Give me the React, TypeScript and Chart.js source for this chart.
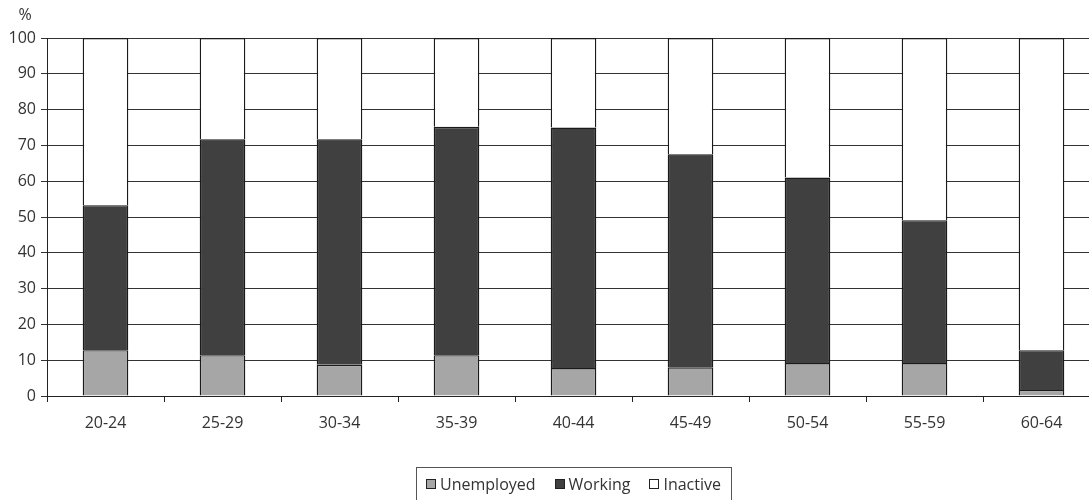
import React, { useEffect, useRef } from "react";
import { Chart, registerables } from "chart.js";

Chart.register(...registerables);

const categories = ["20-24", "25-29", "30-34", "35-39", "40-44", "45-49", "50-54", "55-59", "60-64"];
const unemployed = [12.8, 11.4, 8.7, 11.4, 7.8, 8.0, 9.2, 9.2, 1.7];
const working = [40.5, 60.3, 63.0, 63.8, 67.2, 59.5, 51.8, 39.9, 11.1];
const inactive = [46.7, 28.3, 28.3, 24.8, 25.0, 32.5, 39.0, 50.9, 87.2];
const yTicks = { min: 0, max: 100, step: 10 };

const FONT = "'Open Sans', 'Noto Sans', sans-serif";
const TEXT = "#333333";

const extras = {
  id: "extras",
  afterDraw(chart: any) {
    const ctx = chart.ctx;
    const area = chart.chartArea;
    ctx.save();
    ctx.fillStyle = TEXT;
    ctx.font = `16px ${FONT}`;
    ctx.textAlign = "center";
    ctx.textBaseline = "middle";
    ctx.fillText("%", 25, 15);
    const cx = (area.left + area.right) / 2;
    const items = chart.data.datasets.map((d: any) => ({
      label: d.label,
      fill: d.backgroundColor,
    }));
    ctx.font = `16px ${FONT}`;
    const sw = 10;
    const gapSwText = 4;
    const gapItems = 19;
    let total = 0;
    items.forEach((it: any, i: number) => {
      total += sw + gapSwText + ctx.measureText(it.label).width;
      if (i < items.length - 1) total += gapItems;
    });
    const padX = 10;
    const boxLeft = Math.round(cx - total / 2 - padX) + 0.5;
    const boxW = Math.round(total + padX * 2);
    const boxTop = 467.5;
    ctx.strokeStyle = "#555";
    ctx.lineWidth = 1;
    ctx.strokeRect(boxLeft, boxTop, boxW, 60);
    let x = cx - total / 2;
    const ty = 485;
    items.forEach((it: any) => {
      const sx = Math.round(x);
      ctx.fillStyle = it.fill;
      ctx.fillRect(sx, 479, sw, sw);
      ctx.strokeStyle = "#222";
      ctx.strokeRect(sx + 0.5, 479.5, sw - 1, sw - 1);
      x += sw + gapSwText;
      ctx.fillStyle = TEXT;
      ctx.textAlign = "left";
      ctx.textBaseline = "middle";
      ctx.fillText(it.label, x, ty);
      x += ctx.measureText(it.label).width + gapItems;
    });
    ctx.restore();
  },
};

export default function App() {
  const ref = useRef<HTMLCanvasElement | null>(null);
  useEffect(() => {
    if (!ref.current) return;
    const chart = new Chart(ref.current, {
      type: "bar",
      data: {
        labels: categories,
        datasets: [
          { label: "Unemployed", data: unemployed, backgroundColor: "#a6a6a6", borderColor: "#1a1a1a", borderWidth: 1.4 },
          { label: "Working", data: working, backgroundColor: "#404040", borderColor: "#1a1a1a", borderWidth: 1.4 },
          { label: "Inactive", data: inactive, backgroundColor: "#ffffff", borderColor: "#1a1a1a", borderWidth: 1.4 },
        ],
      },
      options: {
        animation: false,
        responsive: false,
        devicePixelRatio: 1,
        layout: { padding: { top: 38, left: 0, right: 10, bottom: 0 } },
        datasets: { bar: { barPercentage: 0.39, categoryPercentage: 1.0 } },
        plugins: { legend: { display: false }, tooltip: { enabled: false } },
        scales: {
          x: {
            stacked: true,
            grid: { drawOnChartArea: false, drawTicks: true, tickLength: 6, color: "#222", offset: true },
            border: { display: true, color: "#222", width: 1 },
            ticks: { color: TEXT, font: { family: FONT, size: 16 }, padding: 12, maxRotation: 0 },
            afterFit: (s: any) => { s.height = 104; },
          },
          y: {
            stacked: true,
            min: yTicks.min,
            max: yTicks.max,
            ticks: { stepSize: yTicks.step, color: TEXT, font: { family: FONT, size: 16 }, padding: 5 },
            grid: { color: "#333", lineWidth: 1, drawTicks: true, tickLength: 6 },
            border: { display: true, color: "#222", width: 1 },
            afterFit: (s: any) => { s.width = 47; },
          },
        },
      },
      plugins: [extras],
    });
    return () => chart.destroy();
  }, []);
  return (
    <div style={{ position: "fixed", left: 0, top: 0, width: 1089, height: 500, overflow: "hidden", background: "#fff" }}>
      <canvas ref={ref} width={1110} height={500} style={{ width: 1110, height: 500, display: "block" }} />
    </div>
  );
}
